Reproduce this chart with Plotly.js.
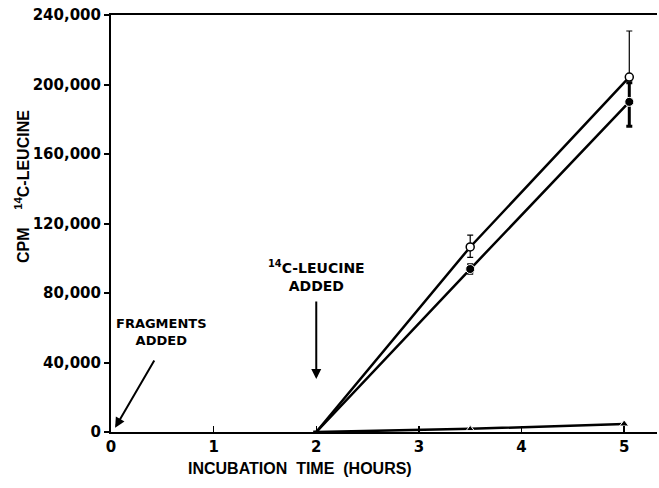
<!DOCTYPE html>
<html>
<head>
<meta charset="utf-8">
<script src="https://cdn.plot.ly/plotly-3.0.1.min.js"></script>
<style>html,body{margin:0;padding:0;background:#fff;}#chart{width:659px;height:488px;}</style>
</head>
<body>
<div id="chart"></div>
<script>
// Data
var timeHours = [2, 3.5, 5.05];
var openCpm = [0, 106500, 204300];
var openErrPlus = [0, 6800, 26500];
var openErrMinus = [0, 6000, 0];
var filledCpm = [0, 93800, 190000];
var filledErrPlus = [0, 2500, 11000];
var filledErrMinus = [0, 2500, 14000];
var triTime = [2, 3.5, 5];
var triCpm = [0, 1800, 4600];
var yTickVals = [0, 40000, 80000, 120000, 160000, 200000, 240000];
var xTickVals = [0, 1, 2, 3, 4, 5];

var fontFam = "DejaVu Sans, Arial, sans-serif";
var titleFam = "Liberation Sans, Arial, sans-serif";

var traces = [
  {
    x: triTime, y: triCpm, mode: 'lines+markers', type: 'scatter',
    line: {color: '#000', width: 2.5},
    marker: {symbol: 'triangle-up', size: [0, 7, 8], color: '#000', opacity: 1},
    showlegend: false, cliponaxis: false
  },
  {
    x: timeHours, y: filledCpm, mode: 'lines+markers', type: 'scatter',
    line: {color: '#000', width: 2.5},
    marker: {symbol: 'circle', size: [0, 9, 9], color: '#000', opacity: 1},
    error_y: {type: 'data', symmetric: false, array: filledErrPlus, arrayminus: filledErrMinus,
              color: '#000', thickness: 3, width: 3},
    showlegend: false, cliponaxis: false
  },
  {
    x: timeHours, y: openCpm, mode: 'lines+markers', type: 'scatter',
    line: {color: '#000', width: 2.5},
    marker: {symbol: 'circle', size: [0, 8, 8], color: '#fff', opacity: 1, line: {color: '#000', width: 1.5}},
    error_y: {type: 'data', symmetric: false, array: openErrPlus, arrayminus: openErrMinus,
              color: '#000', thickness: 1.2, width: 3},
    showlegend: false, cliponaxis: false
  }
];

var layout = {
  width: 659, height: 488,
  margin: {l: 111, r: 2, t: 15, b: 56},
  paper_bgcolor: '#fff', plot_bgcolor: '#fff',
  font: {family: fontFam, color: '#000', size: 13},
  showlegend: false,
  xaxis: {
    range: [0, 5.32], showgrid: false, zeroline: false,
    showline: true, linecolor: '#000', linewidth: 2, mirror: true,
    ticks: 'inside', ticklen: 6, tickwidth: 1.5, tickcolor: '#000',
    tickvals: xTickVals, ticktext: xTickVals.map(String),
    tickfont: {family: fontFam, size: 15, weight: 'bold'}
  },
  yaxis: {
    range: [0, 240000], showgrid: false, zeroline: false,
    showline: true, linecolor: '#000', linewidth: 2,
    ticks: 'outside', ticklen: 5, tickwidth: 2, tickcolor: '#000',
    tickvals: yTickVals, tickformat: ',d',
    tickfont: {family: fontFam, size: 15, weight: 'bold'}
  },
  annotations: [
    {x: 300, y: 469, xref: 'paper', yref: 'paper', text: 'INCUBATION  TIME  (HOURS)', showarrow: false,
     font: {family: titleFam, size: 16, weight: 'bold'}, xanchor: 'center', yanchor: 'middle'},
    {x: 22, y: 187, xref: 'paper', yref: 'paper', text: 'CPM    <sup>14</sup>C-LEUCINE', showarrow: false,
     textangle: -90, font: {family: titleFam, size: 16, weight: 'bold'}, xanchor: 'center', yanchor: 'middle'},
    {x: 0.49, y: 47000, xref: 'x', yref: 'y', text: 'FRAGMENTS<br>ADDED', showarrow: false,
     font: {family: fontFam, size: 13, weight: 'bold'}, align: 'center', xanchor: 'center', yanchor: 'bottom'},
    {x: 0.04, y: 2500, xref: 'x', yref: 'y', ax: 0.43, ay: 42000, axref: 'x', ayref: 'y', text: '',
     showarrow: true, arrowhead: 2, arrowsize: 1, arrowwidth: 2, arrowcolor: '#000', standoff: 0, startstandoff: 0},
    {x: 2.0, y: 78000, xref: 'x', yref: 'y', text: '<sup>14</sup>C-LEUCINE<br>ADDED', showarrow: false,
     font: {family: fontFam, size: 14, weight: 'bold'}, align: 'center', xanchor: 'center', yanchor: 'bottom'},
    {x: 2.0, y: 30500, xref: 'x', yref: 'y', ax: 2.0, ay: 76000, axref: 'x', ayref: 'y', text: '',
     showarrow: true, arrowhead: 2, arrowsize: 1, arrowwidth: 2, arrowcolor: '#000', standoff: 0, startstandoff: 0}
  ]
};
// Paper-pixel positions for axis title annotations
var pw = 659 - 111 - 2, ph = 488 - 15 - 56;
layout.annotations[0].x = (300 - 111) / pw; layout.annotations[0].y = (488 - 56 - 469) / ph;
layout.annotations[1].x = (22 - 111) / pw; layout.annotations[1].y = (488 - 56 - 187) / ph;

Plotly.newPlot('chart', traces, layout, {displayModeBar: false, staticPlot: true});
</script>
</body>
</html>
